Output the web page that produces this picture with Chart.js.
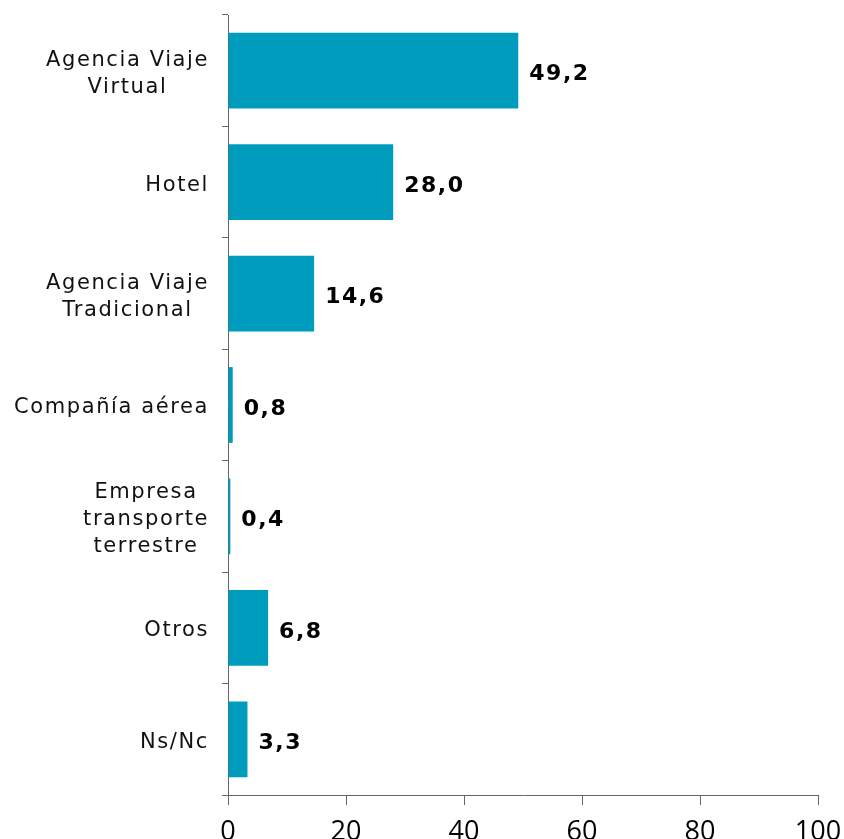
<!DOCTYPE html>
<html lang="es">
<head>
  <meta charset="UTF-8">
  <title>Canal de reserva</title>
  <script src="https://cdn.jsdelivr.net/npm/chart.js"></script>
  <style>
    body { margin: 0; background: #fff; }
  </style>
</head>
<body>
  <canvas id="chart" width="844" height="839"></canvas>

  <script>
    // datos
    const categories = [
      ['Agencia Viaje', 'Virtual'],
      ['Hotel'],
      ['Agencia Viaje', 'Tradicional'],
      ['Compañía aérea'],
      ['Empresa', 'transporte', 'terrestre'],
      ['Otros'],
      ['Ns/Nc']
    ];
    const values = [49.2, 28.0, 14.6, 0.8, 0.4, 6.8, 3.3];
    const valueLabels = ['49,2', '28,0', '14,6', '0,8', '0,4', '6,8', '3,3'];
    const xTicks = [0, 20, 40, 60, 80, 100];

    const axisColor = '#666';

    // etiquetas de categoría y de valor dibujadas a mano
    const labelsPlugin = {
      id: 'labels',
      afterDatasetsDraw(chart) {
        const ctx = chart.ctx;
        const yScale = chart.scales.y;
        const meta = chart.getDatasetMeta(0);

        ctx.save();
        ctx.fillStyle = '#111';
        ctx.textBaseline = 'middle';
        ctx.textAlign = 'left';

        // categorias
        ctx.font = '21px "DejaVu Sans"';
        ctx.letterSpacing = '1.6px';
        const rightEdge = 209;
        const lineH = 27;
        categories.forEach((lines, i) => {
          const cy = yScale.getPixelForValue(i) + 3;
          const widths = lines.map(t => ctx.measureText(t).width);
          const blockW = Math.max(...widths);
          const cx = rightEdge - blockW / 2;
          lines.forEach((t, j) => {
            const y = cy + (j - (lines.length - 1) / 2) * lineH;
            ctx.fillText(t, cx - widths[j] / 2, y);
          });
        });

        // valores
        ctx.font = 'bold 22px "DejaVu Sans"';
        ctx.letterSpacing = '1.5px';
        ctx.fillStyle = '#000';
        meta.data.forEach((bar, i) => {
          ctx.fillText(valueLabels[i], bar.x + 11, bar.y + 4);
        });
        ctx.restore();
      }
    };

    new Chart(document.getElementById('chart'), {
      type: 'bar',
      data: {
        labels: categories,
        datasets: [{
          data: values,
          backgroundColor: '#009cbd',
          borderWidth: 0,
          barPercentage: 0.68,
          categoryPercentage: 1
        }]
      },
      options: {
        indexAxis: 'y',
        responsive: false,
        devicePixelRatio: 1,
        animation: false,
        layout: { padding: { left: 0, right: 26, top: 15, bottom: 0 } },
        plugins: {
          legend: { display: false },
          tooltip: { enabled: false }
        },
        scales: {
          y: {
            grid: {
              offset: true,
              drawOnChartArea: false,
              tickLength: 6,
              color: axisColor
            },
            border: { color: axisColor },
            ticks: { display: false },
            afterFit(scale) { scale.width = 228; }
          },
          x: {
            min: 0,
            max: 100,
            afterBuildTicks(scale) {
              scale.ticks = xTicks.map(v => ({ value: v }));
            },
            grid: {
              drawOnChartArea: false,
              tickLength: 10,
              color: axisColor
            },
            border: { color: axisColor },
            ticks: {
              color: '#000',
              padding: 11,
              maxRotation: 0,
              font: { family: '"Open Sans"', size: 27 }
            },
            afterFit(scale) {
              scale.height = 44;
              scale.paddingLeft = 0;
              scale.paddingRight = 0;
            }
          }
        }
      },
      plugins: [labelsPlugin]
    });
  </script>
</body>
</html>
